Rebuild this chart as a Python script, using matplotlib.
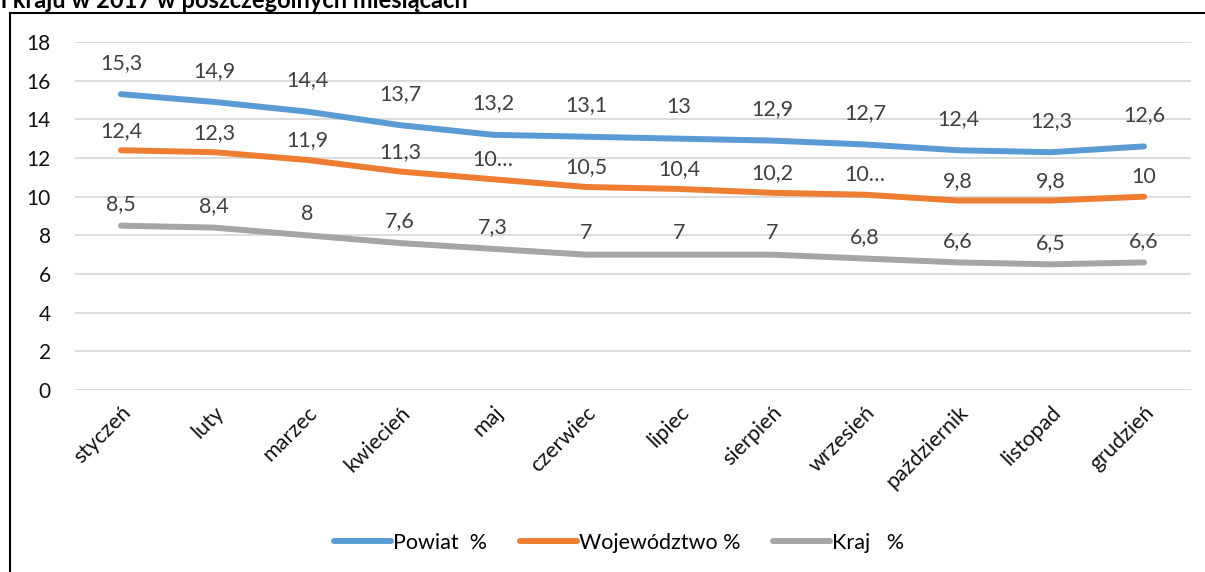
import numpy as np
import matplotlib
matplotlib.use("Agg")
from matplotlib import pyplot as plt
from matplotlib.lines import Line2D

plt.rcParams['font.family'] = ['Lato', 'DejaVu Sans']

months = ["styczeń", "luty", "marzec", "kwiecień", "maj", "czerwiec",
          "lipiec", "sierpień", "wrzesień", "październik", "listopad", "grudzień"]
powiat = [15.3, 14.9, 14.4, 13.7, 13.2, 13.1, 13.0, 12.9, 12.7, 12.4, 12.3, 12.6]
wojewodztwo = [12.4, 12.3, 11.9, 11.3, 10.9, 10.5, 10.4, 10.2, 10.1, 9.8, 9.8, 10.0]
kraj = [8.5, 8.4, 8.0, 7.6, 7.3, 7.0, 7.0, 7.0, 6.8, 6.6, 6.5, 6.6]
# labels as shown in the chart (two of them truncated by excel)
woj_labels = ["12,4", "12,3", "11,9", "11,3", "10…", "10,5", "10,4", "10,2", "10…", "9,8", "9,8", "10"]

series = [
    ("Powiat  %", powiat, "#5B9BD5", 22.5),
    ("Województwo %", wojewodztwo, "#ED7D31", 14),
    ("Kraj   %", kraj, "#A5A5A5", 15.5),
]


def fmt(v):
    s = "{:g}".format(v)
    return s.replace(".", ",")


W, H = 1205, 572
fig = plt.figure(figsize=(W / 100, H / 100), dpi=100)
ax = fig.add_axes([74.5 / W, 1 - 390 / H, (1190.5 - 74.5) / W, (390 - 42) / H])

x = np.arange(len(months))
for name, vals, col, off in series:
    ax.plot(x, vals, color=col, lw=4.3, solid_capstyle='round', label=name)
    labels = woj_labels if vals is wojewodztwo else [fmt(v) for v in vals]
    for xi, v, lab in zip(x, vals, labels):
        ax.annotate(lab, (xi, v), xytext=(0, off), textcoords='offset points',
                    ha='center', va='center', fontsize=15.5, color='#404040')

ax.set_xlim(-0.5, len(months) - 0.5)
ax.set_ylim(0, 18)
ax.set_yticks(np.arange(0, 19, 2))
ax.yaxis.grid(True, color='#D9D9D9', lw=1.3)
ax.set_axisbelow(True)
for s in ax.spines.values():
    s.set_visible(False)
ax.tick_params(axis='y', length=0, pad=17, labelsize=15, labelcolor='#111111')
ax.tick_params(axis='x', length=0, pad=9, labelsize=15.5, labelcolor='#111111')
ax.set_xticks(x)
ax.set_xticklabels(months, rotation=45, ha='right', va='top', rotation_mode='anchor')

fig.legend(loc='center', bbox_to_anchor=(619 / W, 1 - 543 / H), ncol=3, frameon=False,
           fontsize=15.5, handlelength=2.65, handletextpad=0.1, columnspacing=1.5)

# frame of the chart area (cut by the image edge)
fig.add_artist(Line2D([10 / W, 10 / W], [0, 1 - 13 / H], color='black', lw=1.5))
fig.add_artist(Line2D([10 / W, 1], [1 - 13 / H, 1 - 13 / H], color='black', lw=1.5))

# title, mostly cut off at the top
fig.text(1 / W, 1 - 7.5 / H, "i kraju w 2017 w poszczególnych miesiącach",
         fontsize=17, fontweight='bold', va='baseline', ha='left')

fig.savefig("out.png", dpi=100)
